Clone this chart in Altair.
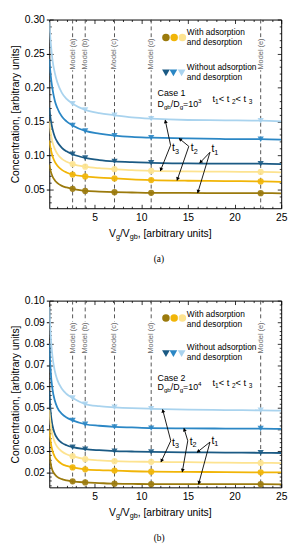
import math
import altair as alt
import pandas as pd

FONT = "Liberation Sans"
SERIF = "Liberation Serif"
NB = "\u00a0"

# ---------------- data ----------------
X_PTS = [0.15, 0.3, 0.5, 0.75, 1.0, 1.5, 2.0, 2.65, 4.0, 5.5, 7.14, 9.0, 11.07, 15.0, 19.0, 22.8, 25.0]

# Case 1 (panel a)
A_LB = [0.296, 0.267, 0.240, 0.221, 0.208, 0.192, 0.183, 0.176, 0.167, 0.162, 0.159, 0.156, 0.154, 0.152, 0.1515, 0.151, 0.150]
A_MB = [0.242, 0.218, 0.197, 0.180, 0.170, 0.157, 0.150, 0.144, 0.136, 0.132, 0.129, 0.127, 0.126, 0.1248, 0.124, 0.1237, 0.123]
A_DB = [0.170, 0.153, 0.1385, 0.127, 0.120, 0.111, 0.1058, 0.1016, 0.0962, 0.093, 0.091, 0.0898, 0.089, 0.088, 0.0878, 0.0876, 0.087]
A_LY = [0.150, 0.133, 0.119, 0.109, 0.1025, 0.0948, 0.0905, 0.087, 0.0832, 0.081, 0.0795, 0.078, 0.077, 0.0762, 0.0758, 0.0755, 0.075]
A_MY = [0.122, 0.1096, 0.0986, 0.0903, 0.085, 0.0785, 0.0747, 0.0717, 0.0688, 0.0672, 0.0659, 0.0645, 0.0635, 0.0625, 0.062, 0.0615, 0.061]
A_DY = [0.086, 0.0767, 0.0688, 0.063, 0.0594, 0.055, 0.0526, 0.0506, 0.0475, 0.0465, 0.0457, 0.0452, 0.0447, 0.0445, 0.0443, 0.0442, 0.044]

# Case 2 (panel b)
B_LB = [0.097, 0.0837, 0.0737, 0.0671, 0.0632, 0.0589, 0.0565, 0.0546, 0.0518, 0.0508, 0.0503, 0.0499, 0.0496, 0.0492, 0.049, 0.0489, 0.0487]
B_MB = [0.080, 0.0671, 0.0585, 0.0533, 0.0503, 0.0472, 0.0455, 0.0442, 0.0424, 0.0417, 0.0412, 0.0409, 0.0406, 0.0405, 0.0404, 0.0404, 0.0402]
B_DB = [0.058, 0.0479, 0.0417, 0.0379, 0.0359, 0.0337, 0.0326, 0.0317, 0.0308, 0.0303, 0.0299, 0.0297, 0.0295, 0.0293, 0.0292, 0.0291, 0.029]
B_LY = [0.049, 0.0423, 0.0373, 0.0339, 0.0319, 0.0297, 0.0284, 0.0275, 0.0261, 0.0256, 0.0252, 0.025, 0.0249, 0.0247, 0.0245, 0.0244, 0.0243]
B_MY = [0.040, 0.0341, 0.0299, 0.0272, 0.0257, 0.0239, 0.023, 0.0223, 0.0214, 0.021, 0.0208, 0.0205, 0.0203, 0.0202, 0.0201, 0.0200, 0.0200]
B_DY = [0.029, 0.024, 0.0208, 0.019, 0.0179, 0.0168, 0.0163, 0.0158, 0.0153, 0.015, 0.0147, 0.0146, 0.0145, 0.0145, 0.0145, 0.0145, 0.0144]

MODEL_X = [2.65, 4.0, 7.14, 11.07, 22.8]
MODEL_LABELS = ["Model (a)", "Model (b)", "Model (c)", "Model (d)", "Model (e)"]

X_TICKS = [5, 10, 15, 20, 25]
X_MINOR = list(range(1, 26))
A_YTICKS = [0.05, 0.10, 0.15, 0.20, 0.25, 0.30]
A_YMINOR = [round(0.03 + 0.01 * i, 3) for i in range(28)]
B_YTICKS = [0.02, 0.03, 0.04, 0.05, 0.06, 0.07, 0.08, 0.09, 0.10]
B_YMINOR = [round(0.014 + 0.002 * i, 3) for i in range(44)]

KEYS = ["lb", "mb", "db", "ly", "my", "dy"]
COLORS = {"lb": "#a9d3ee", "mb": "#2b87c5", "db": "#1b5a84",
          "ly": "#fde390", "my": "#f1b507", "dy": "#9b7a0c"}

W = 236
X_DOM = [0.15, 25.0]

CW = {" ": .278, NB: .278, "(": .333, ")": .333, ",": .278, "/": .278, "<": .584, "=": .584,
      "[": .278, "]": .278, "A": .667, "C": .722, "D": .722, "M": .833, "V": .667,
      "W": .944, "a": .556, "b": .556, "c": .5, "d": .556, "e": .556, "g": .556,
      "h": .556, "i": .222, "l": .222, "n": .556, "o": .556, "p": .556, "r": .333,
      "s": .5, "t": .278, "u": .556, "y": .5}


def twidth(s, size):
    return sum(CW.get(c, 0.556) for c in s) * size


def rich(xv, yv, segs, size, xs=None, ys=None, color="black", pixel=False,
         center=False, font=FONT):
    parts = []
    total = 0.0
    for t, k in segs:
        t = t.replace(" ", NB)
        fs = size if k == "n" else size * 0.7
        dy = 0 if k == "n" else (size * 0.32 if k == "sub" else -size * 0.38)
        parts.append((t, fs, dy, total))
        total += twidth(t, fs)
    off = -total / 2 if center else 0
    df = pd.DataFrame({"x": [xv], "y": [yv]})
    out = []
    for t, fs, dy, dx in parts:
        base = alt.Chart(df).mark_text(text=t, align="left", baseline="middle",
                                       dx=dx + off, dy=dy, fontSize=fs,
                                       font=font, color=color)
        if pixel:
            out.append(base.encode(x=alt.value(xv), y=alt.value(yv)))
        else:
            out.append(base.encode(x=alt.X("x:Q", scale=xs, axis=None),
                                   y=alt.Y("y:Q", scale=ys, axis=None)))
    return out


def panel(curves, ydom, H, yticks, yminor, ytest, ann):
    xs = alt.Scale(domain=X_DOM, nice=False, zero=False)
    ys = alt.Scale(domain=ydom, nice=False, zero=False)
    X = lambda f="x": alt.X(f + ":Q", scale=xs, axis=None)
    Y = lambda f="y": alt.Y(f + ":Q", scale=ys, axis=None)
    cscale = alt.Scale(domain=KEYS, range=[COLORS[k] for k in KEYS])

    rows = []
    for k, arr in zip(KEYS, curves):
        for xv, yv in zip(X_PTS, arr):
            rows.append({"x": xv, "y": yv, "s": k})
    df = pd.DataFrame(rows)

    layers = []
    layers.append(alt.Chart(pd.DataFrame({"x": MODEL_X})).mark_rule(
        color="#555555", strokeDash=[4, 3], strokeWidth=1).encode(x=X()))

    layers.append(alt.Chart(df).mark_line(strokeWidth=1.8, interpolate="monotone", clip=True).encode(
        x=alt.X("x:Q", scale=xs, axis=alt.Axis(values=X_TICKS, format="d", title=None, ticks=False,
                                               labelPadding=4, labelFontSize=10.5, domain=False,
                                               grid=False, labelFlush=False)),
        y=alt.Y("y:Q", scale=ys, axis=alt.Axis(values=yticks, format=".2f",
                                               title="Concentration, [arbitrary units]",
                                               titleFontSize=10.5, titleFontWeight="normal",
                                               titlePadding=4, tickSize=3, tickColor="black",
                                               labelPadding=2, labelFontSize=10.5,
                                               domain=False, grid=False)),
        color=alt.Color("s:N", scale=cscale, legend=None)))

    mk = df[df["x"].isin(MODEL_X)]
    layers.append(alt.Chart(mk[mk["s"].isin(["ly", "my", "dy"])]).mark_point(
        shape="circle", filled=True, size=40, opacity=0.9).encode(
        x=X(), y=Y(), color=alt.Color("s:N", scale=cscale, legend=None)))
    layers.append(alt.Chart(mk[mk["s"].isin(["lb", "mb", "db"])]).mark_point(
        shape="triangle-down", filled=True, size=40, opacity=0.9).encode(
        x=X(), y=Y(), color=alt.Color("s:N", scale=cscale, legend=None)))

    mdf = pd.DataFrame({"x": MODEL_X, "t": [s.replace(" ", NB) for s in MODEL_LABELS],
                        "y": [ann["model_y"]] * 5})
    for halo in (True, False):
        kw = dict(stroke="white", strokeWidth=3, color="white") if halo else dict(color="#6a6a6a")
        layers.append(alt.Chart(mdf).mark_text(angle=270, align="center", baseline="middle",
                                               fontSize=7.5, font=FONT, **kw).encode(
            x=X(), y=Y(), text="t:N"))

    # legend
    ldf = pd.DataFrame({"x": [12.65, 13.53, 14.41], "y": [ann["leg1_y"]] * 3, "s": ["dy", "my", "ly"]})
    layers.append(alt.Chart(ldf).mark_point(shape="circle", filled=True, size=58, opacity=1).encode(
        x=X(), y=Y(), color=alt.Color("s:N", scale=cscale, legend=None)))
    tdf = pd.DataFrame({"x": [12.65, 13.45, 14.33], "y": [ann["leg2_y"]] * 3, "s": ["db", "mb", "lb"]})
    layers.append(alt.Chart(tdf).mark_point(shape="triangle-down", filled=True, size=62, opacity=1).encode(
        x=X(), y=Y(), color=alt.Color("s:N", scale=cscale, legend=None)))
    for txt, yv in [("With adsorption", ann["leg1_t"][0]), ("and desorption", ann["leg1_t"][1]),
                    ("Without adsorption", ann["leg2_t"][0]), ("and desorption", ann["leg2_t"][1])]:
        layers += rich(14.89, yv, [(txt, "n")], 8.5, xs, ys)

    # case text
    layers += rich(11.75, ann["case_y"], [(ann["case"], "n")], 9, xs, ys)
    layers += rich(11.75, ann["d_y"], [("D", "n"), ("gb", "sub"), ("/D", "n"), ("g", "sub"),
                                        ("=10", "n"), (ann["exp"], "sup")], 9, xs, ys)
    layers += rich(17.63, ann["ord_y"], [("t", "n"), ("1", "sub"), (" < t", "n"), ("2", "sub"),
                                          (" < t", "n"), ("3", "sub")], 9.5, xs, ys)

    # arrows
    kx = W / (X_DOM[1] - X_DOM[0])
    ky = H / (ydom[1] - ydom[0])
    arows = []
    for (x0, y0, x1, y1) in ann["arrows"]:
        dxp = (x1 - x0) * kx
        dyp = -(y1 - y0) * ky
        L = math.hypot(dxp, dyp)
        ang = math.degrees(math.atan2(dxp, -dyp)) % 360
        hx = x1 - 2.0 * dxp / L / kx
        hy = y1 + 2.0 * dyp / L / ky
        arows.append({"x": x0, "y": y0, "x2": x1, "y2": y1, "hx": hx, "hy": hy, "a": ang})
    adf = pd.DataFrame(arows)
    layers.append(alt.Chart(adf).mark_rule(color="black", strokeWidth=0.9).encode(
        x=X(), y=Y(), x2="x2:Q", y2="y2:Q"))
    layers.append(alt.Chart(adf).mark_point(shape="triangle", filled=True, size=16, color="black",
                                            opacity=1).encode(
        x=X("hx"), y=Y("hy"), angle=alt.Angle("a:Q", scale=None)))
    for (lx, ly), n in zip(ann["tlabels"], ["3", "2", "1"]):
        layers += rich(lx, ly, [("t", "n"), (n, "sub")], 10.5, xs, ys)

    # axis title and panel tag (outside the plot)
    layers += rich(113, H + 26, [("V", "n"), ("g", "sub"), ("/V", "n"), ("gb", "sub"),
                                 (", [arbitrary units]", "n")], 10.5, pixel=True, center=True)
    layers += rich(112, H + 52, [(ann["tag"], "n")], 9.5, pixel=True, center=True, font=SERIF)

    # inward ticks on all four sides
    xt = {"condition": {"test": "abs(datum.value/5 - round(datum.value/5)) < 0.01", "value": 4}, "value": 2}
    yt = {"condition": {"test": ytest, "value": 4}, "value": 2}
    common = dict(labels=False, domain=False, title=None, grid=False, tickColor="black", tickWidth=0.8)
    layers.append(alt.Chart(df).mark_point(opacity=0, size=1).encode(
        x=alt.X("x:Q", scale=xs, axis=alt.Axis(orient="top", offset=-H, values=X_MINOR, tickSize=xt, **common)),
        y=alt.Y("y:Q", scale=ys, axis=alt.Axis(orient="right", offset=-W, values=yminor, tickSize=yt, **common))))
    layers.append(alt.Chart(df).mark_point(opacity=0, size=1).encode(
        x=alt.X("x:Q", scale=xs, axis=alt.Axis(orient="bottom", offset=-H, values=X_MINOR, tickSize=xt, **common)),
        y=alt.Y("y:Q", scale=ys, axis=alt.Axis(orient="left", offset=-W, values=yminor, tickSize=yt, **common))))

    return alt.layer(*layers).resolve_axis(x="independent", y="independent").properties(width=W, height=H)


ann_a = dict(model_y=0.2493, leg1_y=0.2735, leg2_y=0.2214, leg1_t=(0.2812, 0.2667), leg2_t=(0.2295, 0.2156),
             case="Case 1", case_y=0.191, d_y=0.1755, exp="3", ord_y=0.1823,
             arrows=[(13.15, 0.1147, 12.57, 0.152), (13.15, 0.1147, 12.05, 0.077),
                     (15.1, 0.1132, 14.05, 0.125), (15.1, 0.1132, 13.84, 0.063),
                     (17.37, 0.1045, 16.26, 0.0885), (17.37, 0.1045, 16.05, 0.0445)],
             tlabels=[(13.31, 0.1103), (15.31, 0.1103), (17.52, 0.1089)], tag="(a)")
ann_b = dict(model_y=0.0826, leg1_y=0.0919, leg2_y=0.0753, leg1_t=(0.0936, 0.0891), leg2_t=(0.0785, 0.0736),
             case="Case 2", case_y=0.0638, d_y=0.0595, exp="4", ord_y=0.0615,
             arrows=[(13.17, 0.0347, 12.29, 0.0493), (13.17, 0.0347, 12.12, 0.0248),
                     (14.99, 0.0347, 14.58, 0.0405), (14.99, 0.0347, 14.4, 0.0202),
                     (17.37, 0.0341, 15.98, 0.0293), (17.37, 0.0341, 16.15, 0.0145)],
             tlabels=[(13.31, 0.0338), (15.2, 0.0341), (17.52, 0.0347)], tag="(b)")

pa = panel([A_LB, A_MB, A_DB, A_LY, A_MY, A_DY], [0.022, 0.30], 192, A_YTICKS, A_YMINOR,
           "abs(datum.value*20 - round(datum.value*20)) < 0.01", ann_a)
pb = panel([B_LB, B_MB, B_DB, B_LY, B_MY, B_DY], [0.013, 0.10], 190, B_YTICKS, B_YMINOR,
           "abs(datum.value*100 - round(datum.value*100)) < 0.01", ann_b)

chart = alt.vconcat(pa, pb, spacing=31).properties(
    padding={"left": 2, "top": 1, "right": 5, "bottom": 2}
).configure_view(stroke="black", strokeWidth=1).configure_axis(
    labelFont=FONT, titleFont=FONT, labelColor="black", titleColor="black")

chart.save("out.html", embed_options={"renderer": "svg", "actions": False})
